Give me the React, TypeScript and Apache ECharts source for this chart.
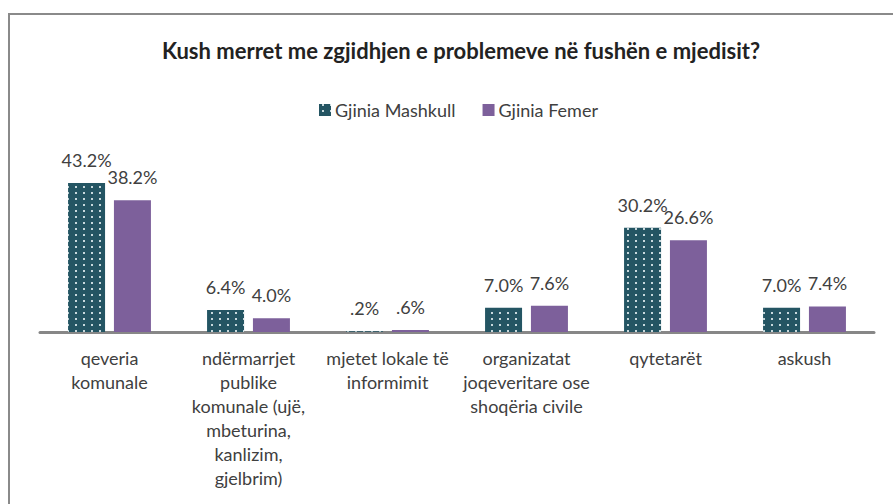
import React, { useEffect, useRef } from "react";
import * as echarts from "echarts";

const titleText = "Kush merret me zgjidhjen e problemeve në fushën e mjedisit?";
const seriesNames = ["Gjinia Mashkull", "Gjinia Femer"];
const categories = [
  "qeveria\nkomunale",
  "ndërmarrjet\npublike\nkomunale (ujë,\nmbeturina,\nkanlizim,\ngjelbrim)",
  "mjetet lokale të\ninformimit",
  "organizatat\njoqeveritare ose\nshoqëria civile",
  "qytetarët",
  "askush",
];
const maleValues = [43.2, 6.4, 0.2, 7.0, 30.2, 7.0];
const femaleValues = [38.2, 4.0, 0.6, 7.6, 26.6, 7.4];

const FONT = "Lato, 'Open Sans', sans-serif";

const fmt = (v: number) => {
  let s = v.toFixed(1);
  if (s.startsWith("0")) s = s.slice(1);
  return s + "%";
};

export default function App() {
  const ref = useRef<HTMLDivElement>(null);
  useEffect(() => {
    if (!ref.current) return;
    const chart = echarts.init(ref.current, null, { renderer: "svg" });
    const labelCfg = {
      show: true,
      position: "top",
      distance: 14,
      color: "#404040",
      fontFamily: FONT,
      fontSize: 18,
      formatter: (p: any) => fmt(p.value),
    };
    chart.setOption({
      animation: false,
      backgroundColor: "#ffffff",
      title: {
        text: titleText,
        left: 461,
        top: 39,
        padding: 0,
        textAlign: "center",
        textStyle: { fontFamily: FONT, fontSize: 22, fontWeight: "bold", color: "#222222" },
      },
      legend: {
        left: 319,
        top: 101,
        padding: 0,
        itemWidth: 12,
        itemHeight: 12,
        itemGap: 27,
        icon: "rect",
        textStyle: { fontFamily: FONT, fontSize: 18, color: "#404040", padding: [0, 0, 0, -1] },
        data: seriesNames,
      },
      grid: { left: 40, right: 19, top: 159.5, bottom: 172 },
      xAxis: {
        type: "category",
        data: categories,
        axisTick: { show: false },
        axisLine: { lineStyle: { color: "#878787", width: 3 } },
        axisLabel: {
          interval: 0,
          margin: 14,
          color: "#404040",
          fontFamily: FONT,
          fontSize: 18,
          lineHeight: 24,
        },
      },
      yAxis: { type: "value", min: 0, max: 50, show: false, splitLine: { show: false } },
      graphic: [
        {
          type: "rect",
          shape: { x: 9, y: 14, width: 900, height: 600 },
          style: { fill: "none", stroke: "#8a8a8a", lineWidth: 2 },
          silent: true,
        },
      ],
      series: [
        {
          name: seriesNames[0],
          type: "bar",
          data: maleValues,
          barWidth: 37,
          barGap: "24%",
          itemStyle: {
            color: "#245563",
            decal: {
              symbol: "rect",
              symbolSize: 1,
              color: "#c8d9dd",
              dashArrayX: [[0, 3, 1.5, 3]],
              dashArrayY: [1.5, 3.2],
              rotation: 0,
            },
          },
          label: labelCfg,
        },
        {
          name: seriesNames[1],
          type: "bar",
          data: femaleValues,
          barWidth: 37,
          barGap: "24%",
          itemStyle: { color: "#7d609b" },
          label: labelCfg,
        },
      ],
    });
    return () => chart.dispose();
  }, []);
  return (
    <div
      ref={ref}
      style={{ position: "absolute", left: 0, top: 0, width: 893, height: 504 }}
    />
  );
}
